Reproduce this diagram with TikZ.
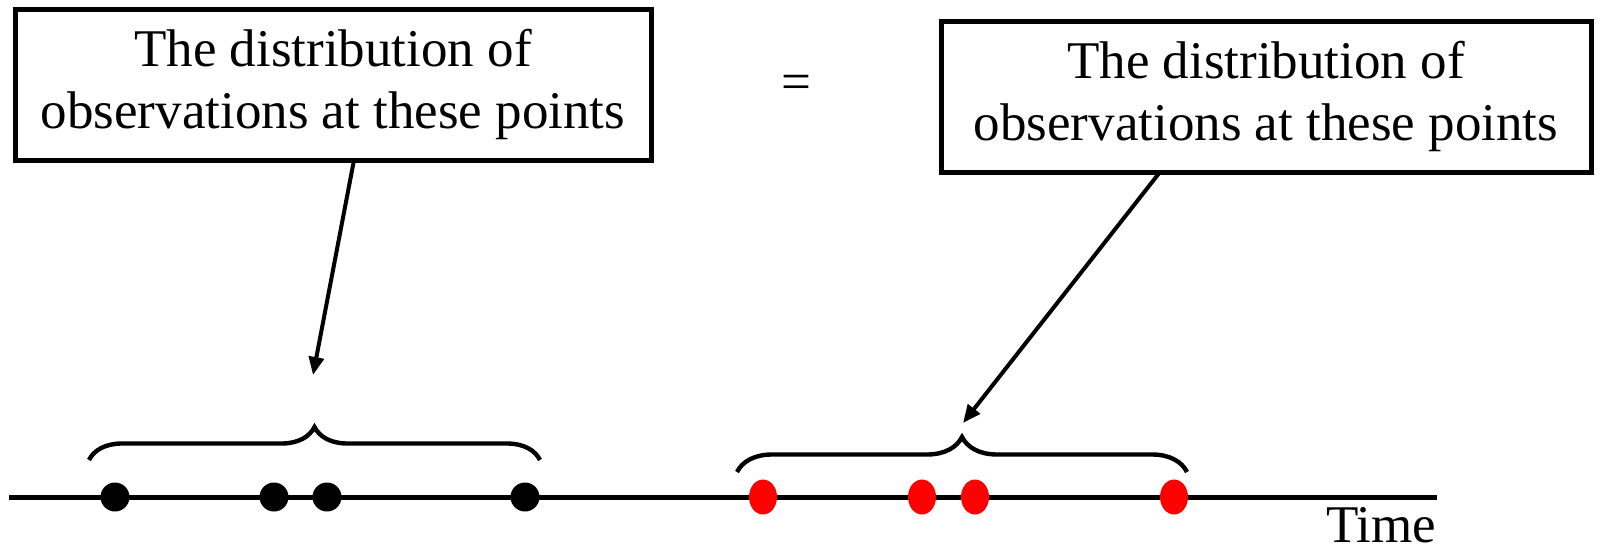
\documentclass[tikz,border=0pt]{standalone}
\usepackage{fontspec}
\setmainfont{Liberation Serif}
\usetikzlibrary{arrows.meta,shapes.geometric,decorations.pathreplacing}
\newcommand{\boxtext}{\raisebox{-2.5pt}{\begin{tabular}{@{}c@{}}The distribution of\\observations at these points\end{tabular}}}
\begin{document}
\begin{tikzpicture}[x=0.5pt,y=-0.5pt,
  every node/.style={font=\fontsize{26.5}{31}\selectfont},
  labelbox/.style={draw=black,line width=2.5pt,rectangle,inner sep=0pt,align=center},
  bdot/.style={circle,fill=black,inner sep=0pt,minimum size=14.5pt},
  rdot/.style={ellipse,fill=red,inner sep=0pt,minimum width=14pt,minimum height=17.5pt},
  pointer/.style={line width=2pt,-{Triangle[length=9pt,width=7.5pt]}},
  timeline/.style={line width=2.5pt},
  bracestyle/.style={line width=2.2pt,decorate,decoration={brace,amplitude=#1}}
]
\useasboundingbox (0,0) rectangle (1600,551);
% boxes
\node[labelbox,minimum width=318pt,minimum height=75pt] (boxL) at (333,85) {\boxtext};
\node[labelbox,minimum width=325pt,minimum height=75pt] (boxR) at (1266,97) {\boxtext};
\node (eq) at (796,87) {=};
% timeline
\coordinate (t0) at (9,497);
\coordinate (t1) at (1437,497);
\draw[timeline] (t0) -- (t1);
\node[anchor=base] (time) at (1381,542) {Time};
% dots
\node[bdot] (b1) at (115,497) {};
\node[bdot] (b2) at (274,497) {};
\node[bdot] (b3) at (327,497) {};
\node[bdot] (b4) at (525,497) {};
\node[rdot] (r1) at (763,497) {};
\node[rdot] (r2) at (922,497) {};
\node[rdot] (r3) at (975,497) {};
\node[rdot] (r4) at (1174,497) {};
% braces
\coordinate (bl0) at (89,460);
\coordinate (bl1) at (540,460);
\draw[bracestyle=16.5pt] (bl0) -- (bl1);
\coordinate (br0) at (737,472);
\coordinate (br1) at (1187,472);
\draw[bracestyle=17.5pt] (br0) -- (br1);
% arrows
\coordinate (aL0) at (354,160);
\coordinate (aL1) at (313,375);
\draw[pointer] (aL0) -- (aL1);
\coordinate (aR0) at (1160,172);
\coordinate (aR1) at (963,423);
\draw[pointer] (aR0) -- (aR1);
\end{tikzpicture}
\end{document}
